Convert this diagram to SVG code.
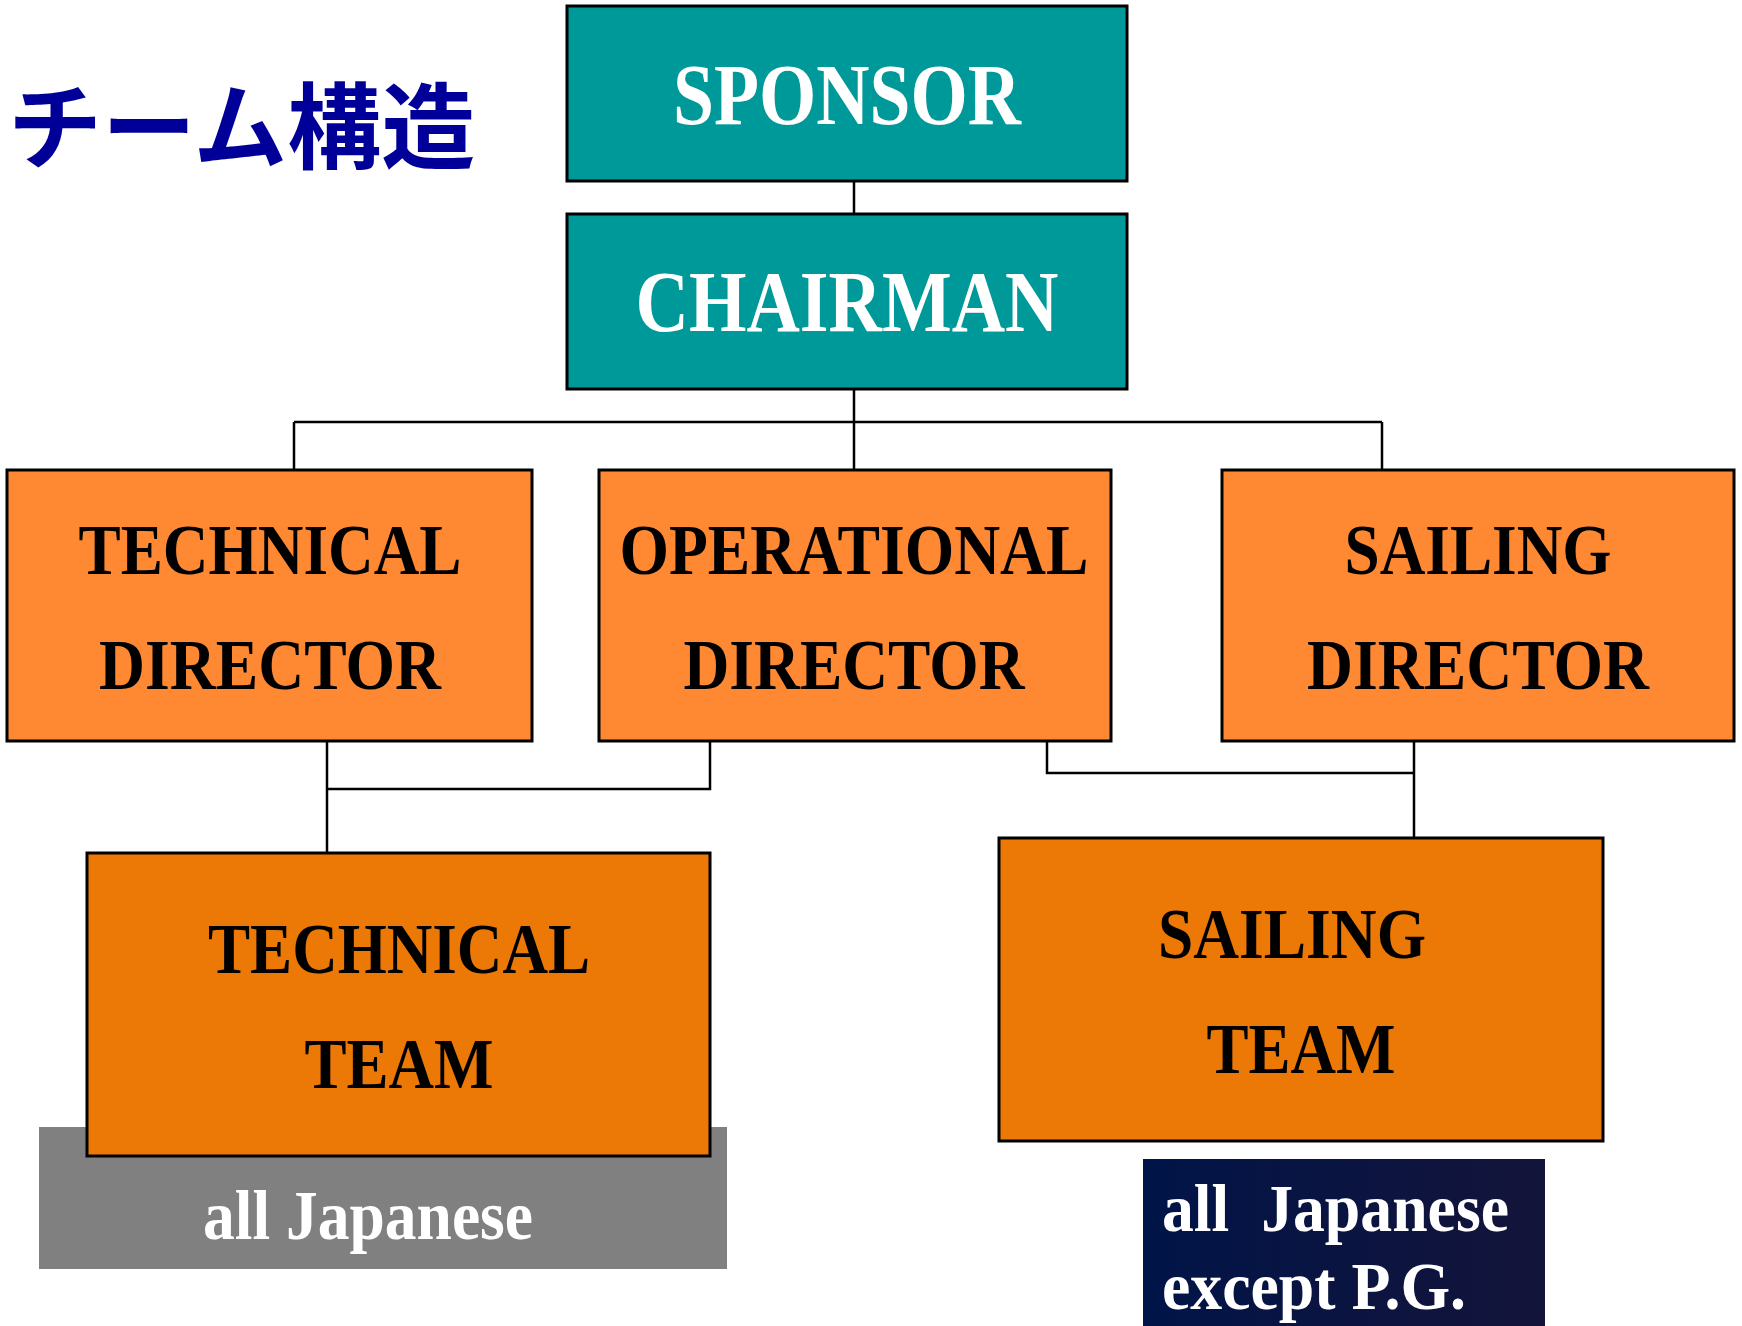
<svg xmlns="http://www.w3.org/2000/svg" width="1742" height="1326" viewBox="0 0 1742 1326">
<style>
.box{stroke:#000;stroke-width:3}
.teal{fill:#009999}
.lo{fill:#FF8833}
.dk{fill:#EC7806}
.t{font-family:"Liberation Serif","Times New Roman",serif;font-weight:bold;text-anchor:middle}
.wt{fill:#fff}
.bk{fill:#000}
.conn{stroke:#000;stroke-width:2.5;fill:none}
</style>
<defs>
<linearGradient id="navy" x1="0" y1="0" x2="1" y2="0">
<stop offset="0" stop-color="#011448"/>
<stop offset="1" stop-color="#14143A"/>
</linearGradient>
</defs>
<rect width="1742" height="1326" fill="#fff"/>
<text x="8" y="162" font-family="'Noto Sans CJK JP',sans-serif" font-weight="bold" font-size="94" fill="#000099">チーム構造</text>
<g id="connectors">
<path class="conn" d="M854 181V214M854 389V470M294 422H1382M294 422V470M1382 422V470"/>
<path class="conn" d="M327 741V853M327 789H710V741"/>
<path class="conn" d="M1047 741V773H1414M1414 741V838"/>
</g>
<g id="sponsor"><rect class="box teal" x="567" y="6" width="560" height="175"/><text class="t wt" x="847" y="124" font-size="86" font-weight="normal" textLength="348" lengthAdjust="spacingAndGlyphs">SPONSOR</text></g>
<g id="chairman"><rect class="box teal" x="567" y="214" width="560" height="175"/><text class="t wt" x="847" y="331" font-size="86" font-weight="normal" textLength="423" lengthAdjust="spacingAndGlyphs">CHAIRMAN</text></g>
<g id="technical-director"><rect class="box lo" x="7" y="470" width="525" height="271"/><text class="t bk" x="270" y="574" font-size="72" textLength="383" lengthAdjust="spacingAndGlyphs">TECHNICAL</text><text class="t bk" x="270" y="689" font-size="72" textLength="342" lengthAdjust="spacingAndGlyphs">DIRECTOR</text></g>
<g id="operational-director"><rect class="box lo" x="599" y="470" width="512" height="271"/><text class="t bk" x="854" y="574" font-size="72" textLength="469" lengthAdjust="spacingAndGlyphs">OPERATIONAL</text><text class="t bk" x="854" y="689" font-size="72" textLength="341" lengthAdjust="spacingAndGlyphs">DIRECTOR</text></g>
<g id="sailing-director"><rect class="box lo" x="1222" y="470" width="512" height="271"/><text class="t bk" x="1478" y="574" font-size="72" textLength="267" lengthAdjust="spacingAndGlyphs">SAILING</text><text class="t bk" x="1478" y="689" font-size="72" textLength="342" lengthAdjust="spacingAndGlyphs">DIRECTOR</text></g>
<g id="technical-team-note"><rect x="39" y="1127" width="688" height="142" fill="#808080"/><text class="t wt" x="368" y="1239" font-size="70" textLength="330" lengthAdjust="spacingAndGlyphs">all Japanese</text></g>
<g id="technical-team"><rect class="box dk" x="87" y="853" width="623" height="303"/><text class="t bk" x="399" y="973" font-size="72" textLength="382" lengthAdjust="spacingAndGlyphs">TECHNICAL</text><text class="t bk" x="399" y="1088" font-size="72" textLength="189" lengthAdjust="spacingAndGlyphs">TEAM</text></g>
<g id="sailing-team"><rect class="box dk" x="999" y="838" width="604" height="303"/><text class="t bk" x="1292" y="958" font-size="72" textLength="268" lengthAdjust="spacingAndGlyphs">SAILING</text><text class="t bk" x="1301" y="1073" font-size="72" textLength="189" lengthAdjust="spacingAndGlyphs">TEAM</text></g>
<g id="sailing-team-note"><rect x="1143" y="1159" width="402" height="167" fill="url(#navy)"/><text class="t wt" x="1162" y="1231" font-size="67" xml:space="preserve" style="text-anchor:start;white-space:pre" textLength="347" lengthAdjust="spacingAndGlyphs">all  Japanese</text><text class="t wt" x="1162" y="1309" font-size="67" style="text-anchor:start" textLength="304" lengthAdjust="spacingAndGlyphs">except P.G.</text></g>
</svg>
